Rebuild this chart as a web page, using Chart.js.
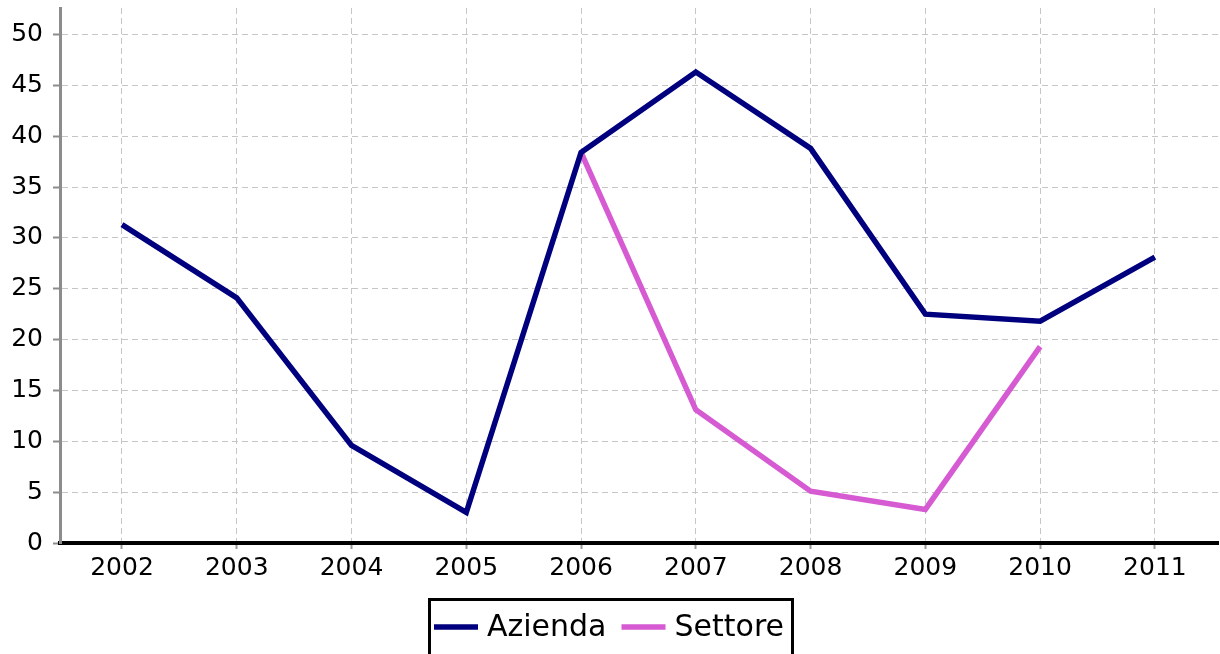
<!DOCTYPE html>
<html>
<head>
<meta charset="utf-8">
<script src="https://cdn.jsdelivr.net/npm/chart.js@4"></script>
<style>
  html, body { margin: 0; padding: 0; background: #fff; }
  #wrap { width: 1220px; height: 654px; }
</style>
</head>
<body>
<div id="wrap"><canvas id="chart" width="1220" height="654"></canvas></div>
<script>
// dati
const years = [2002, 2003, 2004, 2005, 2006, 2007, 2008, 2009, 2010, 2011];
const azienda = [31.3, 24.1, 9.6, 3.0, 38.4, 46.3, 38.8, 22.5, 21.8, 28.1];
const settore = [null, null, null, null, 38.4, 13.1, 5.1, 3.3, 19.3, null];
const yTicks = [0, 5, 10, 15, 20, 25, 30, 35, 40, 45, 50];

const FONT = "'DejaVu Sans', Verdana, sans-serif";
const gridColor = "#c6c6c6";

// legenda con cornice, disegnata a mano
const boxedLegend = {
    id: "boxedLegend",
    afterDraw(chart) {
        const ctx = chart.ctx;
        ctx.save();
        ctx.strokeStyle = "#000";
        ctx.lineWidth = 3;
        ctx.strokeRect(429.5, 599.5, 363, 60);
        ctx.font = "30px " + FONT;
        ctx.textBaseline = "middle";
        ctx.fillStyle = "#000";
        let x = 434;
        const y = 627;
        chart.data.datasets.forEach((ds) => {
            ctx.strokeStyle = ds.borderColor;
            ctx.lineWidth = 5.5;
            ctx.beginPath();
            ctx.moveTo(x, y);
            ctx.lineTo(x + 44, y);
            ctx.stroke();
            ctx.fillText(ds.label, x + 53, y + 1);
            x += 53 + ctx.measureText(ds.label).width + 15;
        });
        ctx.restore();
    },
};

new Chart(document.getElementById("chart"), {
    type: "line",
    data: {
        datasets: [
            {
                label: "Azienda",
                data: years.map((yr, i) => ({ x: yr, y: azienda[i] })),
                borderColor: "#00007f",
                borderWidth: 5.5,
                pointRadius: 0,
                tension: 0,
            },
            {
                label: "Settore",
                data: years.map((yr, i) => ({ x: yr, y: settore[i] })),
                borderColor: "#d65ad2",
                borderWidth: 5.5,
                pointRadius: 0,
                tension: 0,
                spanGaps: false,
            },
        ],
    },
    options: {
        responsive: false,
        animation: false,
        layout: { padding: { top: 8, right: 2, left: 0, bottom: 56 } },
        plugins: { legend: { display: false }, tooltip: { enabled: false } },
        scales: {
            x: {
                type: "linear",
                min: 2001.46,
                max: 2011.55,
                afterBuildTicks: (scale) => {
                    scale.ticks = years.map((v) => ({ value: v }));
                },
                afterFit: (scale) => {
                    scale.height = 55;
                    scale.paddingLeft = 0;
                    scale.paddingRight = 0;
                },
                grid: { color: gridColor, lineWidth: 1, tickLength: 6, tickColor: "#999", tickWidth: 2 },
                border: { color: "#000", width: 4, dash: [6, 4] },
                ticks: {
                    color: "#000",
                    font: { family: FONT, size: 25 },
                    padding: 4,
                    maxRotation: 0,
                    callback: (v) => String(v),
                },
            },
            y: {
                min: 0,
                max: 52.6,
                afterBuildTicks: (scale) => {
                    scale.ticks = yTicks.map((v) => ({ value: v }));
                },
                afterFit: (scale) => {
                    scale.width = 60;
                    scale.paddingTop = 0;
                    scale.paddingBottom = 0;
                },
                grid: { color: gridColor, lineWidth: 1, tickLength: 7, tickColor: "#8c8c8c", tickWidth: 2 },
                border: { color: "#8c8c8c", width: 3, dash: [6, 4] },
                ticks: {
                    color: "#000",
                    font: { family: FONT, size: 25 },
                    padding: 10,
                },
            },
        },
    },
    plugins: [boxedLegend],
});
</script>
</body>
</html>
